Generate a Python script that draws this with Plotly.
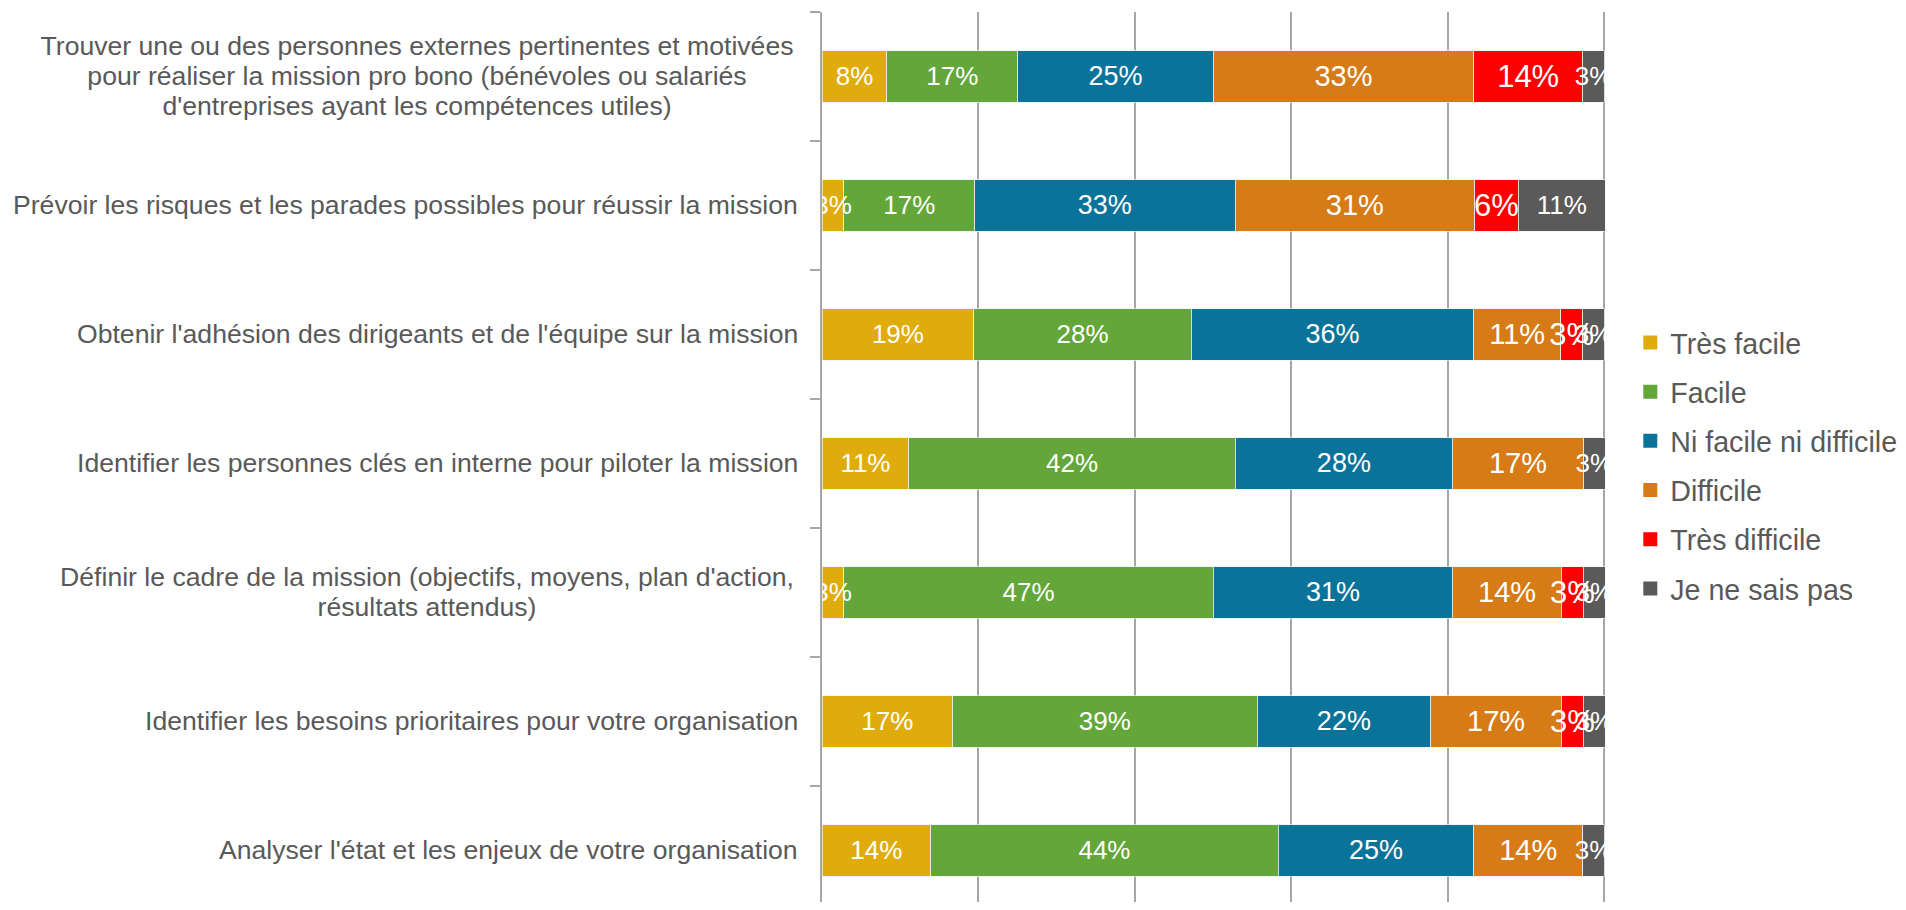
import plotly.graph_objects as go

CATEGORIES = [
    "Trouver une ou des personnes externes pertinentes et motivées<br>pour réaliser la mission pro bono (bénévoles ou salariés<br>d'entreprises ayant les compétences utiles)",
    "Prévoir les risques et les parades possibles pour réussir la mission",
    "Obtenir l'adhésion des dirigeants et de l'équipe sur la mission",
    "Identifier les personnes clés en interne pour piloter la mission",
    "Définir le cadre de la mission (objectifs, moyens, plan d'action,<br>résultats attendus)",
    "Identifier les besoins prioritaires pour votre organisation",
    "Analyser l'état et les enjeux de votre organisation",
]

TRES_FACILE = [0.083, 0.028, 0.194, 0.111, 0.028, 0.167, 0.139]
FACILE = [0.167, 0.167, 0.278, 0.417, 0.472, 0.389, 0.444]
NI_FACILE_NI_DIFFICILE = [0.250, 0.333, 0.361, 0.278, 0.306, 0.222, 0.250]
DIFFICILE = [0.333, 0.306, 0.111, 0.167, 0.139, 0.167, 0.139]
TRES_DIFFICILE = [0.139, 0.056, 0.028, 0.0, 0.028, 0.028, 0.0]
NE_SAIS_PAS = [0.028, 0.111, 0.028, 0.028, 0.028, 0.028, 0.028]

SERIES = [
    ("Très facile", TRES_FACILE, "#E0AC0B", 26),
    ("Facile", FACILE, "#63A63A", 26),
    ("Ni facile ni difficile", NI_FACILE_NI_DIFFICILE, "#0A739A", 27),
    ("Difficile", DIFFICILE, "#D67B16", 29),
    ("Très difficile", TRES_DIFFICILE, "#FF0000", 31),
    ("Je ne sais pas", NE_SAIS_PAS, "#5A5A5A", 26),
]

FONT = "Liberation Sans, Arial, sans-serif"
TEXT_GREY = "#595959"
GRID_GREY = "#A6A6A6"
LABEL_SIZE = 26.6
LINE_STEP = 30  # px between lines of a wrapped category label
Y_RANGE = [6.4, -0.5]

fig = go.Figure()
# coloured bars
for name, values, color, size in SERIES:
    fig.add_trace(
        go.Bar(
            name=name, y=CATEGORIES, x=values, orientation="h",
            marker={"color": color, "line": {"color": "rgba(255,255,255,0.5)", "width": 0.8}},
            showlegend=False, hoverinfo="skip",
        )
    )
# same stack again on an overlaid axis, transparent, so every % label sits on top of all bars
for name, values, color, size in SERIES:
    fig.add_trace(
        go.Bar(
            name=name, y=CATEGORIES, x=values, orientation="h", yaxis="y2",
            marker={"color": "rgba(0,0,0,0)"},
            text=[f"{v:.0%}" if v > 0 else "" for v in values],
            textposition="inside", insidetextanchor="middle", textangle=0,
            constraintext="none", cliponaxis=True,
            textfont={"color": "white", "size": size, "family": FONT},
            showlegend=False, hoverinfo="skip",
        )
    )
# legend-only entries with larger square swatches
for name, values, color, size in SERIES:
    fig.add_trace(
        go.Scatter(
            name=name, x=[None], y=[None], mode="markers",
            marker={"symbol": "square", "size": 14, "color": color},
            legendgroup=name, hoverinfo="skip",
        )
    )

# category labels; wrapped ones get their lines centred in a common box
for cat in CATEGORIES:
    lines = cat.split("<br>")
    n = len(lines)
    for i, line in enumerate(lines):
        fig.add_annotation(
            x=0, xref="paper", y=cat, yref="y",
            text=line, showarrow=False,
            xanchor="right", align="center", xshift=-22,
            yshift=((n - 1) / 2 - i) * LINE_STEP,
            width=762 if n == 3 else (742 if n == 2 else None),
            font={"size": LABEL_SIZE, "color": TEXT_GREY, "family": FONT},
        )

fig.update_layout(
    barmode="stack",
    bargap=0.6,
    width=1898,
    height=894,
    paper_bgcolor="white",
    plot_bgcolor="white",
    margin={"l": 814, "r": 300, "t": 4, "b": 0},
    font={"family": FONT, "color": TEXT_GREY},
    legend={
        "x": 1.031, "y": 0.49, "xanchor": "left", "yanchor": "middle",
        "traceorder": "grouped", "tracegroupgap": 9, "itemsizing": "trace",
        "font": {"size": 28.6, "color": TEXT_GREY, "family": FONT},
    },
    xaxis={
        "range": [0, 1.002], "dtick": 0.2, "showticklabels": False,
        "showgrid": True, "gridcolor": GRID_GREY, "gridwidth": 1.5, "zeroline": False,
    },
    yaxis={
        "categoryorder": "array", "categoryarray": CATEGORIES,
        "range": Y_RANGE, "showticklabels": False,
        "showline": True, "linecolor": GRID_GREY, "linewidth": 1.5,
        "ticks": "outside", "tickson": "boundaries", "ticklen": 10,
        "tickcolor": GRID_GREY, "tickwidth": 1.5, "showgrid": False,
    },
    yaxis2={
        "overlaying": "y", "categoryorder": "array", "categoryarray": CATEGORIES,
        "range": Y_RANGE, "showticklabels": False, "showline": False,
        "showgrid": False, "ticks": "", "zeroline": False,
    },
)

fig.write_html("out.html")
